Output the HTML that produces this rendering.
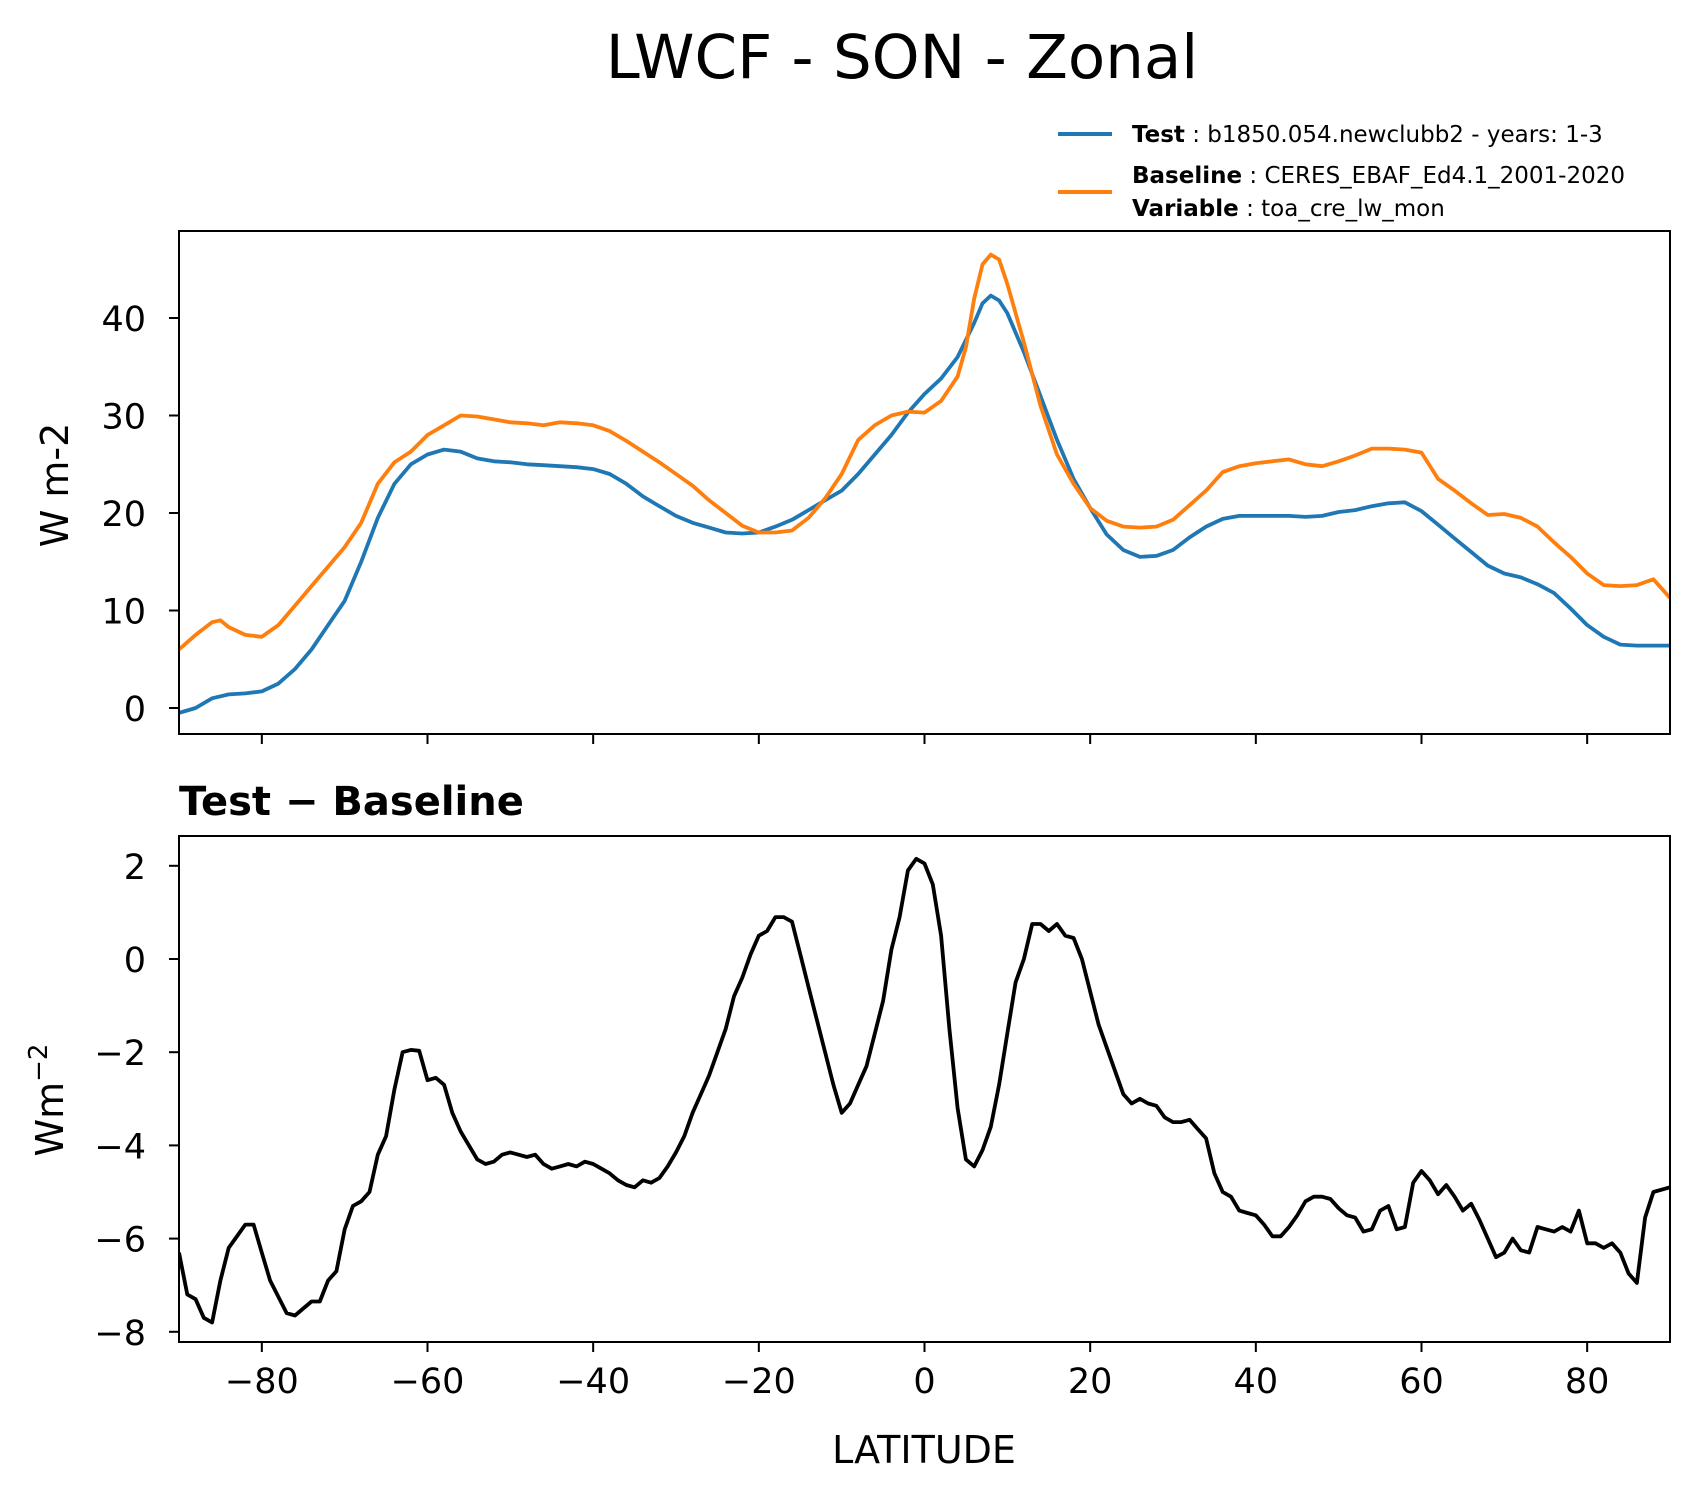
<!DOCTYPE html>
<html><head><meta charset="utf-8"><style>
html,body{margin:0;padding:0;background:#fff;}
svg{display:block;font-family:"DejaVu Sans","Liberation Sans",sans-serif;}
</style></head><body>
<svg id="chart" width="1696" height="1496" viewBox="0 0 1696 1496" xmlns="http://www.w3.org/2000/svg">
<text x="902" y="78" font-size="61" text-anchor="middle">LWCF - SON - Zonal</text>
<g>
<line x1="1058" y1="134" x2="1112" y2="134" stroke="#1f77b4" stroke-width="4"/>
<text x="1132" y="142" font-size="23"><tspan font-weight="bold">Test</tspan> : b1850.054.newclubb2 - years: 1-3</text>
<line x1="1058" y1="192" x2="1112" y2="192" stroke="#ff7f0e" stroke-width="4"/>
<text x="1132" y="183" font-size="23"><tspan font-weight="bold">Baseline</tspan> : CERES_EBAF_Ed4.1_2001-2020</text>
<text x="1132" y="216" font-size="23"><tspan font-weight="bold">Variable</tspan> : toa_cre_lw_mon</text>
</g>
<g id="topPanel"></g>
<g id="botPanel"></g>
<text x="179" y="815" font-size="40" font-weight="bold">Test − Baseline</text>
<text transform="translate(68,485) rotate(-90)" font-size="38" text-anchor="middle">W m-2</text>
<text transform="translate(63,1100) rotate(-90)" font-size="38" text-anchor="middle">Wm<tspan font-size="26" dy="-16">−2</tspan></text>
<text x="924" y="1463" font-size="38" text-anchor="middle">LATITUDE</text>
</svg>
<script>
const testLat = [-90,-88,-86,-84,-82,-80,-78,-76,-74,-72,-70,-68,-66,-64,-62,-60,-58,-56,-54,-52,-50,-48,-46,-44,-42,-40,-38,-36,-34,-32,-30,-28,-26,-24,-22,-20,-18,-16,-14,-12,-10,-8,-6,-4,-2,0,2,4,6,7,8,9,10,12,14,16,18,20,22,24,26,28,30,32,34,36,38,40,42,44,46,48,50,52,54,56,58,60,62,64,66,68,70,72,74,76,78,80,82,84,86,88,90];
const testVals = [-0.5,0,1,1.4,1.5,1.7,2.5,4,6,8.5,11,15,19.5,23,25,26,26.5,26.3,25.6,25.3,25.2,25,24.9,24.8,24.7,24.5,24,23,21.7,20.7,19.7,19,18.5,18,17.9,18,18.6,19.3,20.3,21.3,22.3,24,26,28,30.3,32.2,33.8,36,39.5,41.5,42.3,41.8,40.5,36.5,32,27.5,23.5,20.5,17.8,16.2,15.5,15.6,16.2,17.5,18.6,19.4,19.7,19.7,19.7,19.7,19.6,19.7,20.1,20.3,20.7,21,21.1,20.2,18.8,17.4,16,14.6,13.8,13.4,12.7,11.8,10.2,8.5,7.3,6.5,6.4,6.4,6.4];
const baseLat = [-90,-88,-86,-85,-84,-82,-80,-78,-76,-74,-72,-70,-68,-66,-64,-62,-60,-58,-56,-54,-52,-50,-48,-46,-44,-42,-40,-38,-36,-34,-32,-30,-28,-26,-24,-22,-20,-18,-16,-14,-12,-10,-8,-6,-4,-2,0,2,4,5,6,7,8,9,10,12,14,16,18,20,22,24,26,28,30,32,34,36,38,40,42,44,46,48,50,52,54,56,58,60,62,64,66,68,70,72,74,76,78,80,82,84,86,88,90];
const baseVals = [6,7.5,8.8,9,8.3,7.5,7.3,8.5,10.5,12.5,14.5,16.5,19,23,25.2,26.3,28,29,30,29.9,29.6,29.3,29.2,29,29.3,29.2,29,28.4,27.4,26.3,25.2,24,22.8,21.3,20,18.7,18,18,18.2,19.5,21.5,24,27.5,29,30,30.4,30.3,31.5,34,37,42,45.5,46.5,46,43.5,37.5,31,26,23,20.5,19.2,18.6,18.5,18.6,19.3,20.8,22.3,24.2,24.8,25.1,25.3,25.5,25,24.8,25.3,25.9,26.6,26.6,26.5,26.2,23.5,22.3,21,19.8,19.9,19.5,18.6,17,15.5,13.8,12.6,12.5,12.6,13.2,11.3];
const diffLat = [-90,-89,-88,-87,-86,-85,-84,-82,-81,-80,-79,-77,-76,-74,-73,-72,-71,-70,-69,-68,-67,-66,-65,-64,-63,-62,-61,-60,-59,-58,-57,-56,-55,-54,-53,-52,-51,-50,-49,-48,-47,-46,-45,-44,-43,-42,-41,-40,-39,-38,-37,-36,-35,-34,-33,-32,-31,-30,-29,-28,-27,-26,-25,-24,-23,-22,-21,-20,-19,-18,-17,-16,-15,-14,-13,-12,-11,-10,-9,-8,-7,-6,-5,-4,-3,-2,-1,0,1,2,3,4,5,6,7,8,9,10,11,12,13,14,15,16,17,18,19,20,21,22,23,24,25,26,27,28,29,30,31,32,33,34,35,36,37,38,39,40,41,42,43,44,45,46,47,48,49,50,51,52,53,54,55,56,57,58,59,60,61,62,63,64,65,66,67,68,69,70,71,72,73,74,75,76,77,78,79,80,81,82,83,84,85,86,87,88,90];
const diffVals = [-6.3,-7.2,-7.3,-7.7,-7.8,-6.9,-6.2,-5.7,-5.7,-6.3,-6.9,-7.6,-7.65,-7.35,-7.35,-6.9,-6.7,-5.8,-5.3,-5.2,-5,-4.2,-3.8,-2.8,-2,-1.95,-1.97,-2.6,-2.55,-2.7,-3.3,-3.7,-4,-4.3,-4.4,-4.35,-4.2,-4.15,-4.2,-4.25,-4.2,-4.4,-4.5,-4.45,-4.4,-4.45,-4.35,-4.4,-4.5,-4.6,-4.75,-4.85,-4.9,-4.75,-4.8,-4.7,-4.45,-4.15,-3.8,-3.3,-2.9,-2.5,-2,-1.5,-0.8,-0.4,0.1,0.5,0.6,0.9,0.9,0.8,0.1,-0.6,-1.3,-2,-2.7,-3.3,-3.1,-2.7,-2.3,-1.6,-0.9,0.2,0.9,1.9,2.15,2.05,1.6,0.5,-1.5,-3.2,-4.3,-4.45,-4.1,-3.6,-2.7,-1.6,-0.5,0,0.75,0.75,0.6,0.75,0.5,0.45,0,-0.7,-1.4,-1.9,-2.4,-2.9,-3.1,-3,-3.1,-3.15,-3.4,-3.5,-3.5,-3.45,-3.65,-3.85,-4.6,-5,-5.1,-5.4,-5.45,-5.5,-5.7,-5.95,-5.95,-5.75,-5.5,-5.2,-5.1,-5.1,-5.15,-5.35,-5.5,-5.55,-5.85,-5.8,-5.4,-5.3,-5.8,-5.75,-4.8,-4.55,-4.75,-5.05,-4.85,-5.1,-5.4,-5.25,-5.6,-6,-6.4,-6.3,-6,-6.25,-6.3,-5.75,-5.8,-5.85,-5.75,-5.85,-5.4,-6.1,-6.1,-6.2,-6.1,-6.3,-6.75,-6.95,-5.55,-5,-4.9];
const xTicks = [-80,-60,-40,-20,0,20,40,60,80];
const xTickLabels = ["−80","−60","−40","−20","0","20","40","60","80"];
const topYTicks = [0,10,20,30,40];
const botYTicks = [2,0,-2,-4,-6,-8];
const botYTickLabels = ["2","0","−2","−4","−6","−8"];

const NS="http://www.w3.org/2000/svg";
const L=179,R=1670;
function xs(v){return L+(v+90)/180*(R-L);}
const T1=231,B1=734; function yTop(v){return 708-v*9.75;}
const T2=836,B2=1342; function yBot(v){return 959-v*46.6;}
function mk(tag,attrs,parent){const e=document.createElementNS(NS,tag);for(const k in attrs)e.setAttribute(k,attrs[k]);parent.appendChild(e);return e;}
function drawLine(lats,vals,yf,color,parent,name){
  const d=lats.map((la,i)=>(i?'L':'M')+xs(la).toFixed(1)+','+yf(vals[i]).toFixed(1)).join(' ');
  const p=mk('path',{d:d,fill:'none',stroke:color,'stroke-width':3.8,'stroke-linejoin':'round','clip-path':'url(#'+parent.id+'clip)'},parent);
  
  
}
function frame(g,T,B,yt,yl,yf,showX){
  const defs=mk('defs',{},g);
  const cp=mk('clipPath',{id:g.id+'clip'},defs);
  mk('rect',{x:L,y:T,width:R-L,height:B-T},cp);
  xTicks.forEach((v,i)=>{
    const t=mk('line',{x1:xs(v),x2:xs(v),y1:B,y2:B+10,stroke:'#000','stroke-width':2},g);
    
    
    if(showX){
      const tx=mk('text',{x:xs(v),y:B+51,'font-size':35,'text-anchor':'middle'},g);
      tx.textContent=xTickLabels[i];
      
      
    }
  });
  yt.forEach((v,i)=>{
    const t=mk('line',{x1:L-10,x2:L,y1:yf(v),y2:yf(v),stroke:'#000','stroke-width':2},g);
    
    
    const tx=mk('text',{x:L-33,y:yf(v)+13,'font-size':35,'text-anchor':'end'},g);
    tx.textContent=yl[i];
    
    
  });
}
const topG=document.getElementById('topPanel'), botG=document.getElementById('botPanel');
frame(topG,T1,B1,topYTicks,topYTicks.map(String),yTop,false);
drawLine(testLat,testVals,yTop,'#1f77b4',topG,'test-line');
drawLine(baseLat,baseVals,yTop,'#ff7f0e',topG,'baseline-line');
frame(botG,T2,B2,botYTicks,botYTickLabels,yBot,true);
drawLine(diffLat,diffVals,yBot,'#000',botG,'difference-line');
[[topG,T1,B1],[botG,T2,B2]].forEach(([g,T,B])=>{
  const r=mk('rect',{x:L,y:T,width:R-L,height:B-T,fill:'none',stroke:'#000','stroke-width':2},g);
  
  
});
</script>
</body></html>
